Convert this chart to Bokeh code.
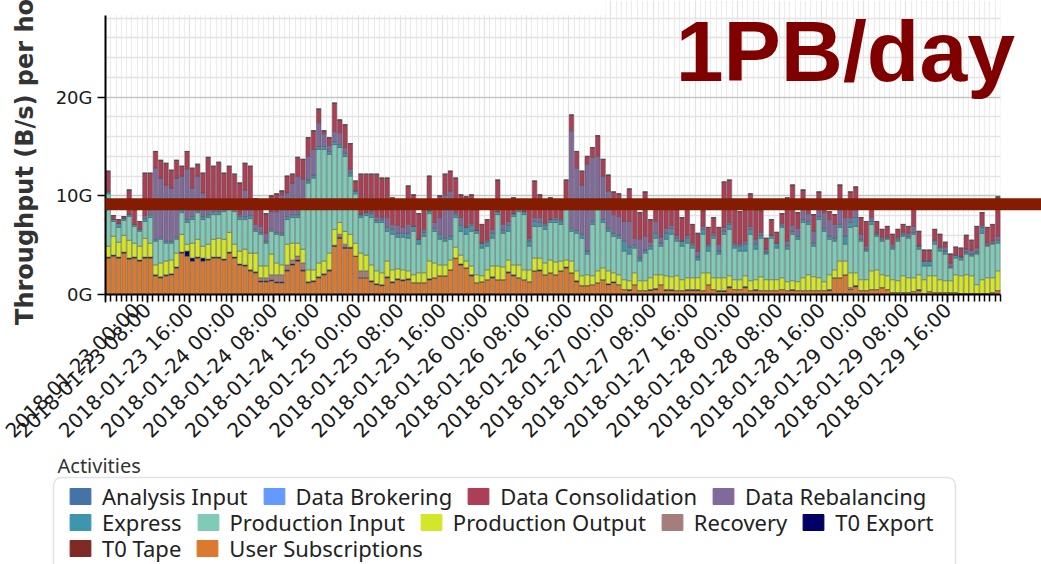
import math
from bokeh.plotting import figure
from bokeh.layouts import column, row
from bokeh.models import (Range1d, FixedTicker, Label, Legend, LegendItem,
                          BoxAnnotation, ColumnDataSource)
from bokeh.embed import file_html
from bokeh.resources import INLINE

# ---------------- data (GB/s per hour slot, starting 2018-01-23 00:00) ----------------
tick_hours = [0, 8, 16, 24, 32, 40, 48, 56, 64, 72, 80, 88, 96, 104, 112, 120, 128, 136, 144, 152, 160]
tick_labels = ["2018-01-23 00:00", "2018-01-23 08:00", "2018-01-23 16:00",
               "2018-01-24 00:00", "2018-01-24 08:00", "2018-01-24 16:00",
               "2018-01-25 00:00", "2018-01-25 08:00", "2018-01-25 16:00",
               "2018-01-26 00:00", "2018-01-26 08:00", "2018-01-26 16:00",
               "2018-01-27 00:00", "2018-01-27 08:00", "2018-01-27 16:00",
               "2018-01-28 00:00", "2018-01-28 08:00", "2018-01-28 16:00",
               "2018-01-29 00:00", "2018-01-29 08:00", "2018-01-29 16:00"]
y_ticks = [0, 10, 20]
y_tick_labels = ["0G", "10G", "20G"]

user_subscriptions = [
    3.7, 3.9, 3.7, 4.2, 3.6, 3.7, 3.4, 3.7, 3.7, 1.9,
    1.7, 1.9, 2.0, 2.7, 4.2, 3.9, 3.4, 3.7, 3.4, 3.5,
    3.7, 3.7, 3.5, 4.2, 3.7, 3.0, 2.9, 2.4, 2.2, 1.3,
    1.3, 1.4, 1.2, 1.2, 2.4, 3.0, 3.4, 2.4, 1.2, 1.3,
    1.7, 2.0, 2.4, 4.9, 5.7, 4.7, 4.7, 3.9, 1.7, 1.7,
    1.3, 1.0, 0.9, 1.7, 1.2, 1.5, 1.4,
    1.5, 1.2, 1.2, 1.2,
    1.5, 1.7, 1.9, 1.9, 2.5, 3.7, 3.0, 2.7, 1.9, 1.2,
    1.3, 1.5, 1.7, 1.5, 1.5, 2.2, 1.9, 1.7, 1.5, 1.3,
    2.4, 2.4, 2.0, 2.2, 2.0, 2.4, 2.7, 2.2, 1.3, 0.9,
    0.9, 1.0, 1.2, 1.5, 1.0, 1.2, 1.0, 0.5, 0.4, 1.0,
    0.4, 0.4, 0.4, 0.5, 1.0, 0.4, 0.4, 0.4, 0.4, 0.4,
    0.4, 0.4, 0.4, 1.0, 0.5, 0.3, 0.3, 0.7, 0.5, 0.5,
    0.7, 0.4, 0.4, 0.4, 0.4, 0.4, 0.4, 0.5, 0.4, 0.4,
    0.4, 0.4, 0.4, 0.4, 0.4, 0.4, 0.4, 1.7, 1.7, 2.0,
    0.5, 0.8, 0.4, 0.4, 0.5, 0.5, 0.7, 0.5, 0.2, 0.2,
    0.2, 0.2, 0.3, 0.4, 0.1, 0.3, 0.2, 0.2, 0.2, 0.2,
    0.2, 0.1, 0.1, 0.1, 0.1, 0.1, 0.1, 0.2, 0.4]

t0_export = [
    .1, .1, .1, .1, .1, .1, .1, .1, .1, .1,
    .1, .1, .1, .1, .1, .5, .3, .1, .3, .1,
    .1, .1, .1, .1, .1, .1, .1, .1, .1, .1,
    .1, .1, .1, .1, .1, .1, .1, .1, .1, .1,
    .1, .1, .1, .1, .1, .1, .1, 0, 0, 0,
    .1, .1, .1, .1, .1, .1, .1,
    .1, 0, 0, 0,
    .1, 0, 0, 0, 0, 0, .1, 0, .1, 0,
    0, 0, .1, 0, 0, .1, .1, 0, 0, 0,
    0, .1, 0, 0, 0, 0, .1, 0, .1, 0,
    0, 0, 0, 0, .1, .1, 0, 0, .1, 0,
    0, 0, .1, .1, 0, .1, .1, 0, 0, .1,
    .1, .1, 0, 0, 0, .1, .1, .1, 0, 0,
    .1, 0, .1, 0, 0, 0, 0, 0, 0, .1,
    0, 0, 0, 0, 0, 0, .1, 0, 0, 0,
    0, .1, 0, 0, 0, 0, 0, 0, 0, 0,
    0, 0, 0, .1, 0, 0, 0, 0, 0, 0,
    0, 0, 0, 0, 0, 0, 0, 0, 0]

recovery = [
    0, 0, 0, 0, 0, 0, 0, 0, 0, 0,
    0, 0, 0, 0, 0, 0, 0, 0, 0, 0,
    0, 0, 0, 0, 0, 0, 0, 0, 0, .3,
    .3, .5, .7, .7, .5, .4, .4, .7, 0, 0,
    0, 0, 0, 0, .3, .3, 0, 0, .7, .7,
    0, 0, 0, 0, 0, 0, 0,
    0, 0, 0, 0,
    0, 0, 0, 0, 0, 0, 0, 0, 0, 0,
    0, 0, 0, 0, 0, 0, 0, 0, 0, 0,
    0, 0, 0, 0, 0, 0, 0, 0, 0, 0,
    0, 0, 0, 0, 0, 0, 0, 0, 0, 0,
    0, 0, 0, 0, 0, 0, 0, 0, 0, 0,
    0, 0, 0, 0, 0, 0, 0, 0, 0, 0,
    0, 0, 0, 0, 0, 0, 0, 0, 0, 0,
    0, 0, 0, 0, 0, 0, 0, 0, 0, 0,
    .2, 0, 0, 0, 0, 0, 0, 0, 0, 0,
    0, 0, 0, 0, 0, 0, 0, 0, 0, 0,
    0, 0, 0, 0, 0, 0, 0, 0, 0]

production_output = [
    1.1, 1.9, 1.5, 1.7, 1.8, 1.4, 1.4, 1.9, 1.4, 1.0,
    1.4, 1.4, 1.4, 1.4, 1.8, 0.7, 1.5, 1.8, 1.2, 1.5,
    1.8, 1.9, 2.0, 2.0, 1.3, 1.3, 1.6, 1.7, 1.9, 1.2,
    1.2, 2.1, 1.2, 1.0, 2.1, 1.7, 1.3, 1.4, 1.2, 1.1,
    1.4, 1.3, 1.7, 1.6, 1.2, 1.3, 1.3, 1.3, 1.8, 1.6,
    1.6, 1.3, 1.2, 1.6, 1.2, 1.0, 1.0,
    0.8, 0.8, 1.0, 1.0,
    1.8, 1.5, 1.1, 1.1, 1.0, 1.1, 0.9, 0.7, 0.9, 0.8,
    0.6, 1.0, 1.1, 1.4, 1.3, 1.2, 1.0, 1.3, 1.0, 1.2,
    1.3, 1.2, 1.2, 1.3, 1.3, 1.0, 0.7, 1.2, 1.0, 1.0,
    1.1, 0.9, 1.2, 1.2, 1.3, 0.9, 1.0, 1.0, 0.9, 1.2,
    1.0, 1.0, 1.2, 1.4, 1.0, 1.4, 1.3, 1.5, 1.1, 1.2,
    1.2, 1.2, 1.8, 1.2, 1.2, 1.3, 1.3, 1.1, 1.0, 1.0,
    1.1, 1.0, 1.0, 1.4, 1.1, 1.1, 1.1, 1.2, 0.9, 0.9,
    0.9, 1.3, 1.6, 1.4, 1.3, 0.9, 1.5, 0.8, 1.7, 1.4,
    1.5, 1.3, 1.1, 1.1, 1.9, 2.0, 1.3, 1.4, 1.3, 1.2,
    1.7, 1.5, 1.4, 1.5, 1.4, 1.6, 1.7, 1.3, 1.2, 1.2,
    1.8, 1.8, 1.9, 1.8, 0.9, 1.4, 1.6, 1.5, 2.0]

production_input = [
    5.3, 1.5, 1.5, 1.5, 2.4, 1.7, 1.5, 1.7, 2.6, 2.4,
    2.4, 1.8, 1.7, 1.4, 2.2, 2.2, 2.4, 2.7, 2.7, 2.7,
    2.5, 2.4, 2.8, 2.3, 3.3, 3.2, 3.0, 3.5, 2.2, 3.2,
    2.3, 2.3, 2.9, 3.0, 2.5, 2.6, 2.6, 4.2, 8.8, 9.3,
    11.5, 11.3, 10.0, 8.6, 7.6, 7.6, 5.9, 5.0, 3.6, 4.0,
    4.8, 4.9, 5.1, 3.0, 3.6, 3.2, 3.3,
    3.3, 4.4, 2.9, 3.7,
    4.8, 3.2, 2.6, 2.4, 2.1, 3.0, 2.4, 2.7, 3.5, 4.2,
    2.8, 2.4, 2.8, 5.2, 3.4, 2.9, 4.9, 5.4, 5.6, 2.4,
    3.2, 3.2, 3.4, 3.8, 4.0, 3.7, 5.1, 3.0, 3.8, 3.8,
    2.1, 5.2, 6.2, 4.6, 4.0, 3.7, 3.7, 2.9, 2.7, 2.5,
    2.0, 2.8, 2.9, 3.7, 2.9, 3.7, 4.3, 3.5, 3.4, 3.5,
    3.0, 1.8, 3.9, 2.2, 4.0, 2.4, 4.4, 4.7, 3.2, 2.9,
    2.5, 4.7, 3.1, 3.9, 2.6, 4.2, 3.2, 5.1, 3.3, 4.7,
    4.3, 5.6, 5.1, 3.1, 5.9, 5.1, 3.6, 2.9, 3.4, 1.7,
    4.6, 4.7, 3.9, 2.9, 4.7, 3.4, 3.4, 3.7, 3.1, 4.0,
    4.0, 4.0, 4.4, 2.6, 1.4, 1.0, 3.2, 2.9, 2.7, 1.3,
    1.7, 1.6, 2.1, 2.0, 3.1, 4.7, 3.2, 3.4, 2.8]

express = [
    .2, .2, .4, .2, .2, .2, .2, .3, .3, .2,
    .2, .2, .2, .2, .3, .3, .3, .2, .3, .3,
    .3, .3, .3, .3, .3, .3, .3, .3, .2, .2,
    .2, .2, .2, .2, .3, .3, .3, .3, .3, .3,
    .3, .3, .3, .3, .3, .3, .3, .3, .3, .3,
    .4, .2, .3, .4, .5, .4, .4,
    .5, .5, .5, .4,
    .3, .3, .5, .3, .3, .3, .6, .7, .6, .3,
    .5, .4, .5, .3, .3, .6, .3, .3, .3, .5,
    .5, .4, .4, .3, .3, .3, .3, .3, .3, .4,
    .3, .3, .3, .3, .3, .3, .3, 1.0, .7, .3,
    .3, .3, .3, .5, .3, .6, .6, .3, .5, .5,
    .3, .3, .5, .5, .3, .3, .3, .5, .3, .5,
    .7, .5, .5, .3, .2, .3, .5, .2, .3, .3,
    .3, .3, .3, .3, .3, .3, .3, .3, .3, .8,
    .5, .9, .2, .2, .3, .2, .2, .1, .2, .2,
    .2, .2, .2, .3, .5, .5, .3, .3, .3, .1,
    .3, .3, .2, .2, .2, .6, .1, .1, .3]

data_rebalancing = [
    .1, 0, 0, 0, 0, 0, 0, .3, .5, 7.2,
    6.0, 5.7, 5.4, 6.0, 3.4, 5.1, 2.9, 3.5, 2.4, .8,
    .3, .3, .2, .2, .2, .2, 2.7, 1.0, .5, .6,
    .8, 1.8, 2.1, 3.9, 2.4, 3.2, 3.9, 2.6, 2.4, 2.6,
    2.4, 1.3, .6, 1.0, 1.2, .6, .4, 0, 0, 0,
    .2, .4, .2, 1.0, .5, .8, .6,
    .9, 0, 0, .3,
    0, .6, 1.7, 4.4, 4.6, .2, .8, 0, .2, 0,
    0, .2, .4, 0, .6, .4, 0, 0, 0, .3,
    .4, .5, .2, 0, .2, .2, .4, 9.9, 6.3, 5.0,
    8.8, 6.5, 5.1, 4.4, 3.8, 1.9, 1.9, 2.0, 2.6, .7,
    1.9, 1.4, .4, 1.2, .6, .5, .3, .3, 0, .3,
    .2, .6, .3, .2, .2, .7, .4, .2, .2, .2,
    .3, .3, .5, .3, .3, 0, 0, .2, .5, .6,
    .8, 1.0, .8, 1.2, .8, 1.6, 1.7, 1.4, 2.0, 1.9,
    .5, .8, .5, .3, .4, .1, .2, .1, .3, .2,
    .2, .3, .6, 0, 0, 0, .1, .1, .4, .4,
    0, 0, .3, .4, .4, .2, .2, .2, .4]

data_consolidation = [
    2.0, .4, .4, .2, 2.5, 1.5, .8, 4.3, 3.7, 1.7,
    1.8, 2.2, 1.8, 1.8, 1.0, 1.8, 2.0, 1.2, 2.0, 5.0,
    4.3, 4.7, 3.4, 3.9, 3.3, 3.2, 2.7, 4.0, 2.6, 2.4,
    2.0, 1.6, 1.8, .4, 1.7, .9, 1.9, 2.0, 1.9, 1.9,
    1.4, .3, .8, 2.9, 1.3, 2.3, 2.6, 1.0, 4.1, 3.9,
    3.8, 4.3, 4.0, 4.0, 2.7, 2.6, 2.6,
    3.9, 3.2, 2.6, 3.0,
    3.5, 2.0, 2.2, 2.1, 2.0, 3.5, 2.3, 3.1, 2.9, 3.0,
    1.9, 2.1, 3.0, 3.2, 2.3, 2.1, 1.6, .6, 1.1, 3.6,
    3.7, 2.3, 2.3, 2.2, 1.7, 2.0, 2.3, 1.6, 1.7, 1.4,
    .8, 1.0, 2.1, 1.7, 1.6, 2.3, 2.3, 2.1, 3.3, 3.6,
    2.7, 4.5, 2.3, 1.7, 3.8, 2.5, 2.5, 3.4, 2.4, 3.1,
    1.9, 1.8, 1.6, 1.7, 1.6, 1.7, 4.6, 4.3, 3.9, 3.3,
    3.2, 3.3, 3.0, 2.2, 1.1, 1.6, 1.1, 1.0, 4.4, 4.1,
    1.6, 2.0, 1.0, 1.7, 1.7, 1.1, .8, 1.0, 2.0, 1.7,
    2.6, 2.3, 1.7, 2.5, 1.3, 1.2, .8, 1.1, 1.0, .8,
    .8, .7, 1.9, 1.5, 1.1, 1.1, 1.1, 1.3, .5, .9,
    .8, .9, 1.4, 1.0, 2.2, 1.3, 1.6, 1.7, 4.0]

n_bars = len(user_subscriptions)
t0_tape = [0.0] * n_bars
data_brokering = [0.0] * n_bars
analysis_input = [0.0] * n_bars

series = {
    "User Subscriptions": user_subscriptions,
    "T0 Tape": t0_tape,
    "T0 Export": t0_export,
    "Recovery": recovery,
    "Production Output": production_output,
    "Production Input": production_input,
    "Express": express,
    "Data Rebalancing": data_rebalancing,
    "Data Consolidation": data_consolidation,
    "Data Brokering": data_brokering,
    "Analysis Input": analysis_input,
}
for k, v in series.items():
    assert len(v) == n_bars, (k, len(v))

colors = {
    "Analysis Input": "#4572A7",
    "Data Brokering": "#6699FF",
    "Data Consolidation": "#AA3F55",
    "Data Rebalancing": "#80699B",
    "Express": "#3D96AE",
    "Production Input": "#7FCBB7",
    "Production Output": "#D4E62A",
    "Recovery": "#A47D7C",
    "T0 Export": "#000066",
    "T0 Tape": "#7F2A25",
    "User Subscriptions": "#DB7A2E",
}
legend_rows = [["Analysis Input", "Data Brokering", "Data Consolidation", "Data Rebalancing"],
               ["Express", "Production Input", "Production Output", "Recovery", "T0 Export"],
               ["T0 Tape", "User Subscriptions"]]

# ---------------- main chart ----------------
PX_PER_H = 5.265
x_end = n_bars + (1041 - 1000) / PX_PER_H
p = figure(width=1041, height=456, output_backend="svg", toolbar_location=None,
           x_range=Range1d(0, x_end), y_range=Range1d(0, 29.8),
           min_border_left=105, min_border_right=0, min_border_top=0, min_border_bottom=162)
p.outline_line_color = None
p.background_fill_color = "white"

src = ColumnDataSource(dict(x=[h + 0.5 for h in range(n_bars)], **series))
names = list(series.keys())
rends = p.vbar_stack(names, x="x", width=0.86, source=src,
                     fill_color=[colors[n] for n in names],
                     line_color="#4d4d4d", line_width=0.6, line_alpha=0.75)

xa = p.xaxis[0]
xa.bounds = (0, n_bars)
xa.ticker = FixedTicker(ticks=tick_hours, minor_ticks=list(range(0, n_bars + 1)))
xa.major_label_overrides = {h: l for h, l in zip(tick_hours, tick_labels)}
xa.major_label_orientation = math.pi / 4
xa.major_label_text_font = "DejaVu Sans"
xa.major_label_text_font_size = "20px"
xa.major_label_text_color = "#1a1a1a"
xa.major_label_standoff = 4
xa.axis_line_width = 2
xa.axis_line_color = "black"
xa.major_tick_out = 8
xa.major_tick_in = 0
xa.minor_tick_out = 7
xa.minor_tick_in = 0
xa.major_tick_line_width = 1.5
xa.minor_tick_line_width = 1.5
xa.major_tick_line_color = "black"
xa.minor_tick_line_color = "black"

ya = p.yaxis[0]
ya.bounds = (0, 28.3)
ya.ticker = FixedTicker(ticks=y_ticks, minor_ticks=[2, 4, 6, 8, 12, 14, 16, 18, 22, 24, 26, 28])
ya.major_label_overrides = {t: l for t, l in zip(y_ticks, y_tick_labels)}
ya.major_label_text_font = "DejaVu Sans"
ya.major_label_text_font_size = "18px"
ya.major_label_text_color = "#1a1a1a"
ya.axis_line_width = 2
ya.axis_line_color = "black"
ya.major_tick_out = 8
ya.major_tick_in = 0
ya.major_tick_line_width = 1.5
ya.minor_tick_line_color = None
ya.axis_label = "Throughput (B/s) per hour"
ya.axis_label_text_font = "DejaVu Sans"
ya.axis_label_text_font_style = "bold"
ya.axis_label_text_font_size = "24px"
ya.axis_label_text_color = "#333333"
ya.axis_label_standoff = 14

p.xgrid.grid_line_color = "#e3e3e3"
p.xgrid.grid_line_width = 1.2
p.xgrid.minor_grid_line_color = "#ececec"
p.xgrid.minor_grid_line_width = 1.2
p.ygrid.grid_line_color = "#c6c6c6"
p.ygrid.grid_line_width = 1.5
p.ygrid.minor_grid_line_color = "#e4e4e4"
p.ygrid.minor_grid_line_width = 1.5

# white areas of the slide: title band at top-left, margin right of the chart
p.add_layout(BoxAnnotation(left=0, right=95, bottom=28.3, top=31,
                           fill_color="white", fill_alpha=1, line_color=None, level="underlay"))
p.add_layout(BoxAnnotation(left=n_bars, right=x_end + 1, bottom=-1, top=31,
                           fill_color="white", fill_alpha=1, line_color=None, level="underlay"))

# slide overlays: 1PB/day marker line and text
LINE_COLOR = "#841C02"
p.add_layout(BoxAnnotation(left=0, right=x_end + 1, bottom=8.55, top=9.76,
                           fill_color=LINE_COLOR, fill_alpha=1, line_color=None, level="overlay"))
# stub of the marker line that runs over the y-axis labels
p.add_layout(BoxAnnotation(left=-7.4, right=0.5, bottom=8.55, top=9.76,
                           fill_color=LINE_COLOR, fill_alpha=1, line_color=None, level="overlay"),
             "left")
p.add_layout(Label(x=108.3, y=24.7, text="1PB/day", text_font="Liberation Sans",
                   text_font_style="bold", text_font_size="86px", text_color="#800000",
                   text_align="left", text_baseline="middle"))

# ---------------- legend panel ----------------
q = figure(width=1041, height=108, output_backend="svg", toolbar_location=None,
           x_range=Range1d(0, 1041), y_range=Range1d(0, 108),
           x_axis_location=None, y_axis_location=None,
           min_border_left=0, min_border_right=0, min_border_top=0, min_border_bottom=0)
q.outline_line_color = None
q.grid.visible = False

q.add_layout(Label(x=57, y=99, text="Activities", text_font="Noto Sans",
                   text_font_size="20px", text_color="#333333", text_baseline="middle"))
q.add_layout(BoxAnnotation(left=53, right=955, top=87, bottom=-20,
                           fill_alpha=0, line_color="#a0a0a0", line_width=1.5,
                           border_radius=8))

key_renderers = {n: q.rect(x=[-1000], y=[-1000], width=1, height=1, fill_color=colors[n],
                           line_color=colors[n]) for n in names}
row_center = [66, 40, 14]
for names_in_row, yc in zip(legend_rows, row_center):
    leg = Legend(items=[LegendItem(label=n, renderers=[key_renderers[n]]) for n in names_in_row],
                 orientation="horizontal", location=(67, yc - 13), padding=0, margin=0,
                 spacing=13, glyph_width=26, glyph_height=20, label_standoff=9,
                 label_height=20, border_line_alpha=0, background_fill_alpha=0,
                 label_text_font="Noto Sans", label_text_font_size="22px",
                 label_text_color="#222222")
    q.add_layout(leg)

if "frame_align" in p.properties():
    p.frame_align = False
    q.frame_align = False
    layout = column(p, q, spacing=0)
else:
    layout = column(p, row(q), spacing=0)

open("out.html", "w").write(file_html(layout, INLINE))
